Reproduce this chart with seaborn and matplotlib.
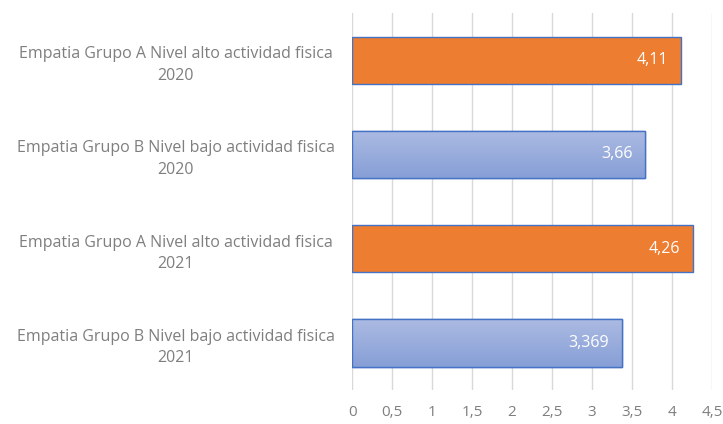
import numpy as np
import pandas as pd
import matplotlib
matplotlib.use('Agg')
import matplotlib.pyplot as plt
import seaborn as sns
from matplotlib.colors import LinearSegmentedColormap

categorias = ['Empatia Grupo A Nivel alto actividad fisica\n2020',
              'Empatia Grupo B Nivel bajo actividad fisica\n2020',
              'Empatia Grupo A Nivel alto actividad fisica\n2021',
              'Empatia Grupo B Nivel bajo actividad fisica\n2021']
valores = [4.11, 3.66, 4.26, 3.369]
etiquetas = ['4,11', '3,66', '4,26', '3,369']
grupos = ['A', 'B', 'A', 'B']
xticks = [0, 0.5, 1, 1.5, 2, 2.5, 3, 3.5, 4, 4.5]
xlabels = ['0', '0,5', '1', '1,5', '2', '2,5', '3', '3,5', '4', '4,5']

df = pd.DataFrame({'cat': categorias, 'val': valores, 'grupo': grupos})

sns.set_style('white')
plt.rcParams['font.family'] = ['Open Sans', 'DejaVu Sans']

fig = plt.figure(figsize=(7.23, 4.24), dpi=100)
ax = fig.add_axes([0.487, 0.080, 0.498, 0.889])

sns.barplot(data=df, x='val', y='cat', hue='grupo', orient='h',
            palette={'A': '#ED7D31', 'B': '#9BAEDC'}, dodge=False, saturation=1,
            legend=False, width=0.5, edgecolor='#4472C4', linewidth=1.0, ax=ax)

# degradado en las barras azules
cmap = LinearSegmentedColormap.from_list('azul', ['#ABBAE2', '#879FD7'])
grad = np.linspace(0, 1, 100).reshape(-1, 1)
for p in list(ax.patches):
    if p.get_width() > 0 and abs(p.get_facecolor()[0] - 0.608) < 0.05:
        x0, y0 = p.get_x(), p.get_y()
        w, h = p.get_width(), p.get_height()
        im = ax.imshow(grad, cmap=cmap, aspect='auto',
                       extent=[x0, x0 + w, y0 + h, y0], zorder=p.get_zorder() + 0.1)
        im.set_clip_path(p)
        # volver a dibujar el borde
        ax.add_patch(plt.Rectangle((x0, y0), w, h, fill=False,
                                   edgecolor='#4472C4', linewidth=1.0,
                                   zorder=p.get_zorder() + 0.2))

for i, (v, t) in enumerate(zip(valores, etiquetas)):
    ax.annotate(t, (v, i), xytext=(-9, 0), textcoords='offset points',
                ha='right', va='center', color='white', fontsize=11.5, zorder=5)

ax.set_xlim(0, 4.5)
ax.set_ylim(3.5, -0.5)
ax.set_xticks(xticks)
ax.set_xticklabels(xlabels, color='#7F7F7F', fontsize=11)
ax.tick_params(axis='both', length=0)
ax.tick_params(axis='x', pad=11)
ax.set_yticks(range(len(categorias)))
ax.set_yticklabels(categorias, color='#7F7F7F', fontsize=11.5, ha='center',
                   multialignment='center', linespacing=1.45)
ax.tick_params(axis='y', pad=127)
ax.set_xlabel('')
ax.set_ylabel('')
ax.grid(axis='x', color='#D9D9D9', linewidth=1)
ax.set_axisbelow(True)
for s in ax.spines.values():
    s.set_visible(False)

fig.savefig('out.png', dpi=100)
